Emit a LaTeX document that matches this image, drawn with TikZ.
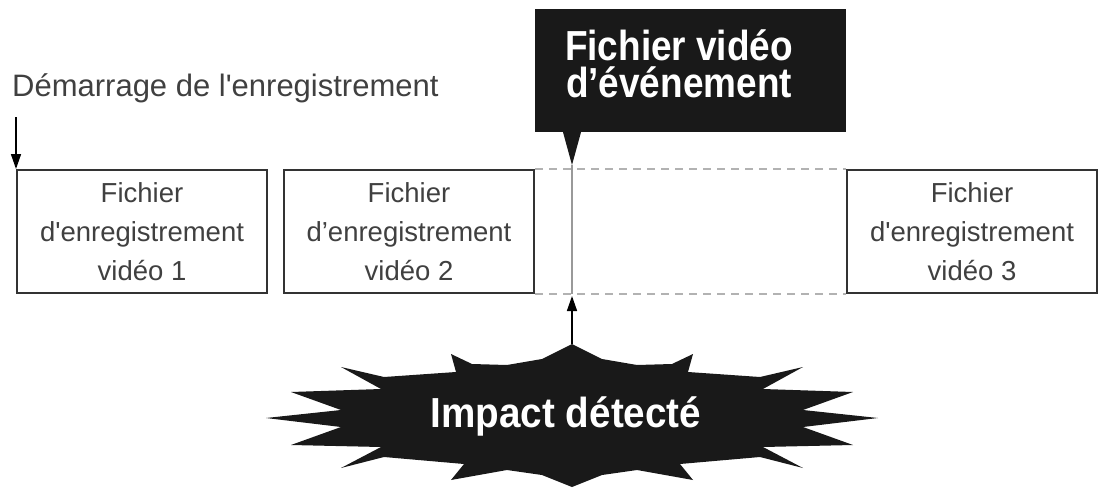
\documentclass[tikz,border=0pt]{standalone}
\usepackage{fontspec}
\setmainfont{Liberation Sans}[Ligatures=TeXOff]
\newfontfamily\eventfont{Liberation Sans Bold}[FakeStretch=0.88]
\newfontfamily\impactfont{Liberation Sans Bold}[FakeStretch=0.92]
\usetikzlibrary{arrows.meta}
\usetikzlibrary{positioning, calc}
\tikzset{
    recbox/.style = {draw=black!80, line width=2pt, inner sep=0pt,
        minimum width=250pt, minimum height=123pt, align=center,
        text=black!75, font=\fontsize{27.5}{39}\selectfont},
    dashline/.style = {draw=black!30, line width=2pt, dash pattern=on 8pt off 6pt},
    grayline/.style = {draw=black!40, line width=1.5pt},
    event_fill/.style = {fill=black!90, inner sep=0pt},
    event_label/.style = {white, align=center, font=\eventfont\fontsize{42}{37}\selectfont},
    impact_label/.style = {white, font=\impactfont\fontsize{42}{42}\selectfont},
    start_label/.style = {text=black!75, inner sep=0pt, font=\fontsize{31}{31}\selectfont},
}

\begin{document}
\begin{tikzpicture}[x=1pt, y=-1pt, ->, >={Triangle[length=15pt, width=10pt]}]
            \useasboundingbox (0,0) rectangle (1103,490);
            % recording files
            \node (file1) [recbox] at (142,231.5) {Fichier\\d'enregistrement\\vidéo 1};
            \node (file2) [recbox, right=15pt of file1] {Fichier\\d’enregistrement\\vidéo 2};
            \node (file3) [recbox, right=311pt of file2] {Fichier\\d'enregistrement\\vidéo 3};
            \draw [dashline, -] (file2.north east) -- (file3.north west);
            \draw [dashline, -] (file2.south east) -- (file3.south west);
            % start of recording
            \node (start) [start_label, anchor=base west] at (12,96) {Démarrage de l'enregistrement};
            \coordinate (start_arrow) at ([yshift=52pt]file1.north west);
            \draw [line width=1.5pt] (start_arrow) -- (file1.north west);
            % event video file
            \node (event_box) [event_fill, minimum width=311pt, minimum height=123pt] at (690.5,70.5) {};
            \coordinate (tip) at (572,165);
            \fill [black!90] ([xshift=-9pt]tip |- event_box.south) -- (tip)
                -- ([xshift=9pt]tip |- event_box.south) -- cycle;
            \node (event_text) [event_label, anchor=base] at (679,97) {Fichier vidéo\\d’événement};
            \draw [grayline, -] (tip) -- (tip |- file2.south);
            % impact
            \begin{scope}[shift={(572,417)}]
                \fill [black!90] (0,-73) -- (30,-58) -- (65,-52) -- (100,-53) -- (121,-63)
                    -- (116,-45) -- (188,-40) -- (231,-50) -- (191,-28) -- (281,-25)
                    -- (231,-7) -- (306,1) -- (231,10) -- (281,28) -- (191,30)
                    -- (231,51) -- (188,40) -- (108,47) -- (121,63) -- (65,53) -- (30,58)
                    -- (0,70) -- (-30,58) -- (-65,53) -- (-121,63) -- (-108,47)
                    -- (-188,40) -- (-231,51) -- (-191,30) -- (-281,28) -- (-231,10)
                    -- (-306,1) -- (-231,-7) -- (-281,-25) -- (-191,-28) -- (-231,-50)
                    -- (-188,-40) -- (-116,-45) -- (-121,-63) -- (-100,-53) -- (-65,-52)
                    -- (-30,-58) -- cycle;
            \end{scope}
            \coordinate (burst_top) at (572,344);
            \node (impact) [impact_label, anchor=base] at (566,427) {Impact détecté};
            \draw [line width=1.5pt] (burst_top) -- ([yshift=-2pt]tip |- file2.south);
\end{tikzpicture}
\end{document}
